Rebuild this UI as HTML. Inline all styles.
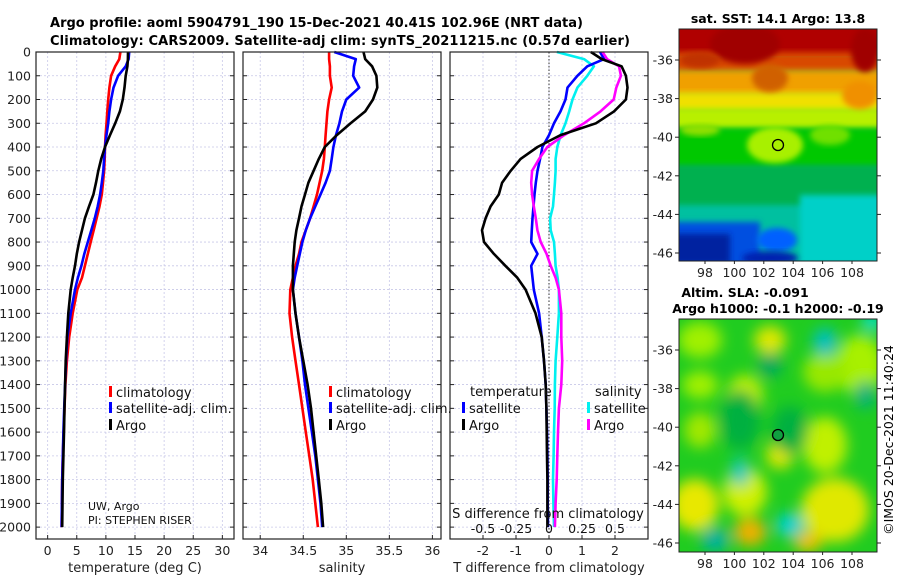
<!DOCTYPE html>
<html><head><meta charset="utf-8">
<style>
html,body{margin:0;padding:0;background:#fff;}
svg{display:block;font-family:"DejaVu Sans","Liberation Sans",sans-serif;}
</style></head>
<body>
<svg id="fig" width="900" height="580" viewBox="0 0 900 580" xmlns="http://www.w3.org/2000/svg">
<defs>
<filter id="blur3" x="-20%" y="-20%" width="140%" height="140%"><feGaussianBlur stdDeviation="3"/></filter>
<filter id="blur6" x="-50%" y="-50%" width="200%" height="200%"><feGaussianBlur stdDeviation="7"/></filter>
<clipPath id="clipTop"><rect x="679" y="29" width="198" height="232"/></clipPath>
<clipPath id="clipBot"><rect x="679" y="319" width="198" height="233"/></clipPath>
</defs>
<text x="50" y="27" font-size="13" font-weight="bold" textLength="533">Argo profile: aoml 5904791_190 15-Dec-2021 40.41S 102.96E (NRT data)</text>
<text x="50" y="45" font-size="13" font-weight="bold" textLength="580">Climatology: CARS2009. Satellite-adj clim: synTS_20211215.nc (0.57d earlier)</text>

<!-- SST map -->
<g clip-path="url(#clipTop)">
<rect x="679" y="29" width="198" height="232" fill="#00b060"/>
<rect x="660" y="20" width="240" height="36" fill="#b00000"/>
<rect x="660" y="52" width="240" height="20" fill="#d84800" filter="url(#blur3)"/>
<rect x="660" y="70" width="240" height="26" fill="#f0a000" filter="url(#blur3)"/>
<rect x="660" y="92" width="240" height="20" fill="#f0e000" filter="url(#blur3)"/>
<rect x="660" y="108" width="240" height="22" fill="#b8f000" filter="url(#blur3)"/>
<rect x="660" y="128" width="240" height="40" fill="#00c800" filter="url(#blur3)"/>
<rect x="660" y="165" width="240" height="45" fill="#00b050" filter="url(#blur3)"/>
<rect x="660" y="205" width="240" height="70" fill="#00c0a0" filter="url(#blur3)"/>
<rect x="800" y="195" width="90" height="70" fill="#00d0c8" filter="url(#blur3)"/>
<ellipse cx="745" cy="44" rx="35" ry="20" fill="#a00000" filter="url(#blur3)"/>
<ellipse cx="865" cy="50" rx="14" ry="22" fill="#a00000" filter="url(#blur3)"/>
<ellipse cx="700" cy="60" rx="20" ry="8" fill="#c03000" filter="url(#blur3)"/>
<ellipse cx="770" cy="78" rx="18" ry="14" fill="#d06000" filter="url(#blur3)"/>
<ellipse cx="860" cy="95" rx="18" ry="14" fill="#f09000" filter="url(#blur3)"/>
<ellipse cx="700" cy="130" rx="20" ry="6" fill="#90e000" filter="url(#blur3)"/>
<ellipse cx="775" cy="145" rx="28" ry="18" fill="#a8f000" filter="url(#blur3)"/>
<ellipse cx="830" cy="135" rx="20" ry="10" fill="#70e000" filter="url(#blur3)"/>
<rect x="660" y="222" width="100" height="45" fill="#0050e0" filter="url(#blur3)"/>
<rect x="670" y="234" width="60" height="30" fill="#0020a0" filter="url(#blur3)"/>
<ellipse cx="777" cy="240" rx="20" ry="12" fill="#0060ff" filter="url(#blur3)"/>
<ellipse cx="770" cy="258" rx="28" ry="7" fill="#0020b0" filter="url(#blur3)"/>
</g>
<rect x="679" y="29" width="198" height="232" fill="none" stroke="#222" stroke-width="1"/>
<circle cx="778" cy="145" r="5.5" fill="none" stroke="#000" stroke-width="1.3"/>
<text x="778" y="23" font-size="12.5" font-weight="bold" text-anchor="middle">sat. SST: 14.1 Argo: 13.8</text>

<!-- SLA map -->
<g clip-path="url(#clipBot)">
<rect x="679" y="319" width="198" height="233" fill="#20cc20"/>
<g filter="url(#blur6)">
<ellipse cx="700" cy="340" rx="22" ry="18" fill="#a0f000"/>
<ellipse cx="770" cy="340" rx="16" ry="14" fill="#e0e800"/>
<ellipse cx="860" cy="365" rx="24" ry="30" fill="#a8f000"/>
<ellipse cx="825" cy="372" rx="22" ry="20" fill="#98e800"/>
<ellipse cx="745" cy="395" rx="18" ry="20" fill="#c0f000"/>
<ellipse cx="700" cy="385" rx="18" ry="14" fill="#a0f000"/>
<ellipse cx="780" cy="455" rx="14" ry="14" fill="#e0e800"/>
<ellipse cx="825" cy="445" rx="22" ry="28" fill="#c0f000"/>
<ellipse cx="700" cy="430" rx="16" ry="18" fill="#a0e800"/>
<ellipse cx="695" cy="505" rx="24" ry="26" fill="#e8e800"/>
<ellipse cx="745" cy="492" rx="22" ry="24" fill="#d0f000"/>
<ellipse cx="750" cy="532" rx="16" ry="14" fill="#f0b000"/>
<ellipse cx="835" cy="510" rx="34" ry="32" fill="#e0e800"/>
<ellipse cx="808" cy="542" rx="14" ry="10" fill="#f0c000"/>
<ellipse cx="740" cy="420" rx="20" ry="30" fill="#00b040"/>
<ellipse cx="790" cy="430" rx="18" ry="24" fill="#00b040"/>
<ellipse cx="825" cy="342" rx="12" ry="14" fill="#00c0c0"/>
<ellipse cx="740" cy="472" rx="9" ry="14" fill="#00c8c0"/>
<ellipse cx="790" cy="525" rx="14" ry="12" fill="#00d0d0"/>
<ellipse cx="715" cy="540" rx="14" ry="12" fill="#00b0a0"/>
<ellipse cx="770" cy="365" rx="12" ry="12" fill="#00a860"/>
<ellipse cx="865" cy="395" rx="10" ry="14" fill="#00b080"/>
<ellipse cx="872" cy="322" rx="10" ry="8" fill="#00e0e0"/>
</g>
</g>
<rect x="679" y="319" width="198" height="233" fill="none" stroke="#222" stroke-width="1"/>
<circle cx="778" cy="435" r="5.5" fill="#10a040" stroke="#000" stroke-width="1.3"/>
<text x="745" y="297" font-size="12.5" font-weight="bold" text-anchor="middle">Altim. SLA: -0.091</text>
<text x="778" y="313" font-size="12.5" font-weight="bold" text-anchor="middle">Argo h1000: -0.1 h2000: -0.19</text>
<text x="0" y="0" font-size="12.5" text-anchor="middle" transform="translate(893,440) rotate(-90)">©IMOS 20-Dec-2021 11:40:24</text>
</svg>

<script>
// ---- data ----
const depthTicks = [0,100,200,300,400,500,600,700,800,900,1000,1100,1200,1300,1400,1500,1600,1700,1800,1900,2000];
const tTicks = [0,5,10,15,20,25,30];
const sTicks = [34,34.5,35,35.5,36];
const sTickLabels = ["34","34.5","35","35.5","36"];
const dTicks = [-2,-1,0,1,2];
const dsTicks = [-0.5,-0.25,0,0.25,0.5];
const dsTickLabels = ["-0.5","-0.25","0","0.25","0.5"];
const latTicks = [-36,-38,-40,-42,-44,-46];
const lonTicks = [98,100,102,104,106,108];

const profDepth = [0,30,60,100,150,200,250,300,350,400,450,500,550,600,650,700,750,800,850,900,950,1000,1100,1200,1300,1400,1500,1600,1700,1800,1900,2000];
const tempClim = [12.5,12.3,11.6,10.9,10.6,10.4,10.25,10.1,9.95,9.85,9.8,9.7,9.5,9.3,8.9,8.4,7.9,7.4,6.9,6.4,5.9,5.1,4.3,3.7,3.3,3.05,2.9,2.75,2.6,2.5,2.45,2.4];
const tempSat = [14.0,13.9,13.4,12.1,11.3,10.9,10.6,10.4,10.1,9.85,9.7,9.55,9.3,9.0,8.6,8.1,7.5,6.9,6.3,5.8,5.2,4.7,3.95,3.4,3.15,3.0,2.85,2.7,2.6,2.5,2.45,2.4];
const tempArgo = [13.8,13.78,13.7,13.4,13.2,12.9,12.4,11.6,10.7,9.85,9.2,8.7,8.3,7.85,7.1,6.4,5.9,5.4,5.0,4.7,4.3,3.95,3.55,3.3,3.1,3.0,2.9,2.8,2.7,2.6,2.55,2.5];
const salClim = [34.80,34.80,34.81,34.81,34.83,34.80,34.78,34.77,34.76,34.75,34.74,34.72,34.69,34.66,34.62,34.58,34.53,34.48,34.45,34.41,34.38,34.35,34.34,34.37,34.41,34.45,34.49,34.53,34.57,34.61,34.64,34.67];
const salSat = [34.86,35.11,35.09,35.08,35.15,35.0,34.95,34.92,34.88,34.85,34.83,34.81,34.76,34.70,34.64,34.58,34.53,34.49,34.46,34.43,34.40,34.38,34.41,34.45,34.49,34.52,34.56,34.60,34.64,34.67,34.70,34.72];
const salArgo = [35.20,35.22,35.30,35.35,35.36,35.31,35.22,35.05,34.89,34.75,34.68,34.62,34.56,34.52,34.48,34.45,34.42,34.40,34.39,34.38,34.38,34.38,34.41,34.45,34.50,34.55,34.59,34.62,34.65,34.68,34.71,34.73];
const dTempSat = [1.55,1.67,1.16,0.86,0.56,0.5,0.35,0.15,0.0,-0.2,-0.27,-0.35,-0.4,-0.44,-0.47,-0.5,-0.52,-0.54,-0.35,-0.54,-0.5,-0.46,-0.3,-0.22,-0.15,-0.1,-0.08,-0.06,-0.05,-0.04,-0.04,-0.03];
const dTempArgo = [1.27,1.6,2.2,2.33,2.38,2.33,1.97,1.42,0.35,-0.35,-0.86,-1.16,-1.42,-1.52,-1.77,-1.92,-2.03,-1.97,-1.67,-1.32,-0.96,-0.71,-0.41,-0.22,-0.15,-0.1,-0.08,-0.07,-0.06,-0.05,-0.05,-0.05];
const dSalSat = [0.06,0.265,0.34,0.29,0.215,0.178,0.153,0.125,0.088,0.063,0.05,0.05,0.045,0.038,0.03,0.008,0.013,0.038,0.045,0.05,0.065,0.075,0.075,0.063,0.05,0.045,0.043,0.038,0.035,0.03,0.033,0.038];
const dSalArgo = [0.405,0.44,0.53,0.545,0.51,0.49,0.39,0.265,0.115,-0.013,-0.075,-0.128,-0.135,-0.128,-0.115,-0.1,-0.088,-0.063,-0.018,0.013,0.05,0.075,0.093,0.093,0.1,0.093,0.075,0.068,0.063,0.058,0.05,0.045];

// ---- layout ----
const NS = "http://www.w3.org/2000/svg";
const svg = document.getElementById('fig');
const Y0 = 52, Y1 = 539, DMAX = 2050;
function yScale(d){ return Y0 + d*(Y1-Y0)/DMAX; }
function mk(tag, attrs, parent){ const e=document.createElementNS(NS,tag); for(const k in attrs) e.setAttribute(k,attrs[k]); (parent||svg).appendChild(e); return e; }
function lin(a,b,p0,p1){ return v => p0+(v-a)*(p1-p0)/(b-a); }

const panels = [
 {name:'temperature-panel', x0:36, x1:234, sx:lin(-2,32,36,234), ticks:tTicks, labels:tTicks.map(String), xlabel:'temperature (deg C)'},
 {name:'salinity-panel', x0:243, x1:441, sx:lin(33.8,36.1,243,441), ticks:sTicks, labels:sTickLabels, xlabel:'salinity'},
 {name:'difference-panel', x0:450, x1:648, sx:lin(-3,3,450,648), ticks:dTicks, labels:dTicks.map(String), xlabel:'T difference from climatology'}
];

panels.forEach((p,pi)=>{
  const g = mk('g',{});
  
  
  depthTicks.forEach(d=>{
    const l = mk('line',{x1:p.x0,x2:p.x1,y1:yScale(d),y2:yScale(d),stroke:'#c8c8e8','stroke-width':0.8,'stroke-dasharray':'2,2'},g);
    
    
    mk('line',{x1:p.x0,x2:p.x0+4,y1:yScale(d),y2:yScale(d),stroke:'#222','stroke-width':1},g);
    mk('line',{x1:p.x1-4,x2:p.x1,y1:yScale(d),y2:yScale(d),stroke:'#222','stroke-width':1},g);
  });
  p.ticks.forEach((t,i)=>{
    const x = p.sx(t);
    const l = mk('line',{x1:x,x2:x,y1:Y0,y2:Y1,stroke:'#c8c8e8','stroke-width':0.8,'stroke-dasharray':'2,2'},g);
    
    
    mk('line',{x1:x,x2:x,y1:Y1-4,y2:Y1,stroke:'#222','stroke-width':1},g);
    const tx = mk('text',{x:x,y:555,'font-size':12.5,'text-anchor':'middle',fill:'#222'},g);
    tx.textContent = p.labels[i];
    
    
  });
  const xl = mk('text',{x:(p.x0+p.x1)/2,y:572,'font-size':13,'text-anchor':'middle',fill:'#222'},g);
  xl.textContent = p.xlabel;
  
  
  p.g = g;
});

depthTicks.forEach(d=>{
  const t = mk('text',{x:31,y:yScale(d)+4.5,'font-size':12.5,'text-anchor':'end',fill:'#222'});
  t.textContent = String(d);
  
  
});

const zl = mk('line',{x1:panels[2].sx(0),x2:panels[2].sx(0),y1:Y0,y2:Y1,stroke:'#333','stroke-width':1,'stroke-dasharray':'1.5,2'});



function drawLine(vals, sx, color, name, w){
  const pts = vals.map((v,i)=> sx(v).toFixed(1)+','+yScale(profDepth[i]).toFixed(1)).join(' ');
  const pl = mk('polyline',{points:pts,fill:'none',stroke:color,'stroke-width':w||2.6,'stroke-linejoin':'round'});
  
  
}
const p0=panels[0], p1=panels[1], p2=panels[2];
const sxS = v => p2.sx(v*4);
drawLine(tempClim, p0.sx, '#ff0000', 'temp-climatology-line');
drawLine(tempSat, p0.sx, '#0000ff', 'temp-satellite-line');
drawLine(tempArgo, p0.sx, '#000000', 'temp-argo-line');
drawLine(salClim, p1.sx, '#ff0000', 'sal-climatology-line');
drawLine(salSat, p1.sx, '#0000ff', 'sal-satellite-line');
drawLine(salArgo, p1.sx, '#000000', 'sal-argo-line');
drawLine(dSalSat, sxS, '#00f0f0', 'sal-diff-satellite-line');
drawLine(dTempSat, p2.sx, '#0000ff', 'temp-diff-satellite-line');
drawLine(dSalArgo, sxS, '#ff00ff', 'sal-diff-argo-line');
drawLine(dTempArgo, p2.sx, '#000000', 'temp-diff-argo-line');

panels.forEach(p=>{
  const r = mk('rect',{x:p.x0,y:Y0,width:p.x1-p.x0,height:Y1-Y0,fill:'none',stroke:'#222','stroke-width':1.2});
  
  
});

function legend(x, y, color, label, name){
  const g = mk('g',{});
  
  
  mk('rect',{x:x,y:y-11,width:3,height:11,fill:color},g);
  const t = mk('text',{x:x+7,y:y,'font-size':13,fill:'#111'},g);
  t.textContent = label;
}
legend(109,397,'#ff0000','climatology','legend-temp-climatology');
legend(109,413,'#0000ff','satellite-adj. clim.','legend-temp-satellite');
legend(109,430,'#000000','Argo','legend-temp-argo');
legend(329,397,'#ff0000','climatology','legend-sal-climatology');
legend(329,413,'#0000ff','satellite-adj. clim.','legend-sal-satellite');
legend(329,430,'#000000','Argo','legend-sal-argo');
legend(462,413,'#0000ff','satellite','legend-dtemp-satellite');
legend(462,430,'#000000','Argo','legend-dtemp-argo');
legend(587,413,'#00f0f0','satellite','legend-dsal-satellite');
legend(587,430,'#ff00ff','Argo','legend-dsal-argo');
(function(){
  const t1 = mk('text',{x:470,y:396,'font-size':13,fill:'#111'}); t1.textContent='temperature';
   
  const t2 = mk('text',{x:595,y:396,'font-size':13,fill:'#111'}); t2.textContent='salinity';
   
  const t3 = mk('text',{x:548,y:518,'font-size':13,'text-anchor':'middle',fill:'#111'}); t3.textContent='S difference from climatology';
   
  dsTicks.forEach((v,i)=>{
    const t = mk('text',{x:sxS(v),y:533,'font-size':12.5,'text-anchor':'middle',fill:'#111'});
    t.textContent = dsTickLabels[i];
    
    
  });
  const c1 = mk('text',{x:88,y:510,'font-size':11,fill:'#111'}); c1.textContent='UW, Argo';
   
  const c2 = mk('text',{x:88,y:524,'font-size':11,fill:'#111'}); c2.textContent='PI: STEPHEN RISER';
   
})();

const latY1 = lin(-36,-46,60,253), latY2 = lin(-36,-46,350,543), lonX = lin(98,108,705,852);
[[latY1,261,'sst'],[latY2,552,'sla']].forEach(([ly,bottom,nm])=>{
  latTicks.forEach(v=>{
    const y = ly(v);
    const t = mk('text',{x:673,y:y+4.5,'font-size':12.5,'text-anchor':'end',fill:'#222'});
    t.textContent = String(v);
    
    
    mk('line',{x1:877,x2:881,y1:y,y2:y,stroke:'#222'});
    mk('line',{x1:675,x2:679,y1:y,y2:y,stroke:'#222'});
  });
  lonTicks.forEach(v=>{
    const x = lonX(v);
    const t = mk('text',{x:x,y:bottom+16,'font-size':12.5,'text-anchor':'middle',fill:'#222'});
    t.textContent = String(v);
    
    
    mk('line',{x1:x,x2:x,y1:bottom,y2:bottom+3,stroke:'#222'});
  });
});
</script>
</body></html>
